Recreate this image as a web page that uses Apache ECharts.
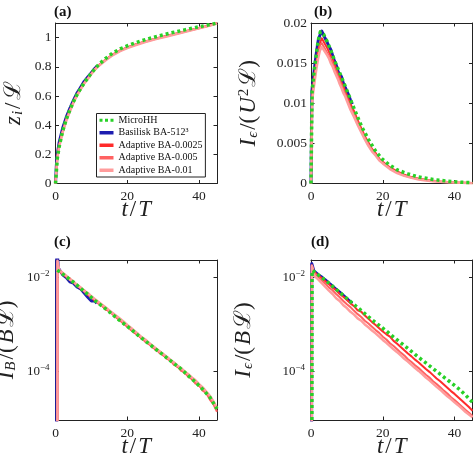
<!DOCTYPE html>
<html><head><meta charset="utf-8">
<script src="https://cdn.jsdelivr.net/npm/echarts@6/dist/echarts.min.js"></script>
<style>html,body{margin:0;padding:0;background:#fff}#c{width:475px;height:458px}</style>
</head><body><div id="c"></div><script>
// ---------- DATA ----------
const NAMES = ['MicroHH', 'Basilisk BA-512³', 'Adaptive BA-0.0025', 'Adaptive BA-0.005', 'Adaptive BA-0.01'];
const X_TICKS = [0, 20, 40];

// Panel (a): z_i / L
const tA = [0, 0.25, 0.5, 1, 1.5, 2, 3, 4, 5, 6, 7, 8, 9, 10, 11, 12, 14, 16, 18, 20, 22, 25, 28, 31, 34, 37, 40, 43, 45];
const zA_ba0025 = [0, 0.10, 0.18, 0.26, 0.31, 0.36, 0.44, 0.50, 0.56, 0.61, 0.65, 0.69, 0.72, 0.755, 0.785, 0.81, 0.85, 0.885, 0.912, 0.933, 0.951, 0.974, 0.994, 1.012, 1.03, 1.048, 1.066, 1.085, 1.098];
const zA_ba005  = [0, 0.095, 0.175, 0.255, 0.305, 0.355, 0.435, 0.497, 0.557, 0.607, 0.648, 0.688, 0.719, 0.753, 0.783, 0.808, 0.848, 0.883, 0.91, 0.931, 0.949, 0.972, 0.992, 1.01, 1.028, 1.046, 1.064, 1.083, 1.097];
const zA_ba01   = [0, 0.09, 0.17, 0.25, 0.30, 0.35, 0.43, 0.493, 0.553, 0.603, 0.645, 0.685, 0.716, 0.75, 0.78, 0.805, 0.845, 0.88, 0.907, 0.928, 0.946, 0.97, 0.99, 1.008, 1.026, 1.045, 1.063, 1.082, 1.096];
const tMicroA = [0, 0.5, 1, 2, 3, 4, 5, 6, 8, 10, 12, 14, 16, 18, 20, 22, 24, 26, 28, 30, 32, 34, 36, 38, 40, 42, 44, 45];
const zMicroA = [0, 0.17, 0.25, 0.36, 0.44, 0.505, 0.56, 0.61, 0.69, 0.757, 0.815, 0.858, 0.895, 0.922, 0.944, 0.962, 0.978, 0.993, 1.006, 1.019, 1.031, 1.042, 1.053, 1.064, 1.074, 1.084, 1.094, 1.1];
const tBlueA = [0, 0.25, 0.5, 1, 1.5, 2, 3, 4, 5, 6, 7, 8, 9, 10, 11, 11.6];
const zBlueA = [0, 0.13, 0.2, 0.28, 0.33, 0.38, 0.455, 0.515, 0.57, 0.62, 0.66, 0.70, 0.73, 0.76, 0.79, 0.805];

// Panel (b): I_eps / (U^2 L)
const tB = [0, 0.2, 0.3, 0.5, 0.8, 1, 1.5, 2, 2.5, 3, 3.5, 4, 4.5, 5, 5.5, 6, 6.5, 7, 7.5, 8, 8.5, 9, 9.5, 10, 11, 12, 13, 14, 15, 16, 17, 18, 19, 20, 22, 24, 26, 28, 30, 32, 34, 36, 38, 40, 42, 45];
const iB_ba0025 = [0, 0, 0.0106, 0.0119, 0.0128, 0.0136, 0.0151, 0.0166, 0.0175, 0.0181, 0.0177, 0.0176, 0.0169, 0.0167, 0.0159, 0.0156, 0.0149, 0.0144, 0.0137, 0.0134, 0.0126, 0.0122, 0.0115, 0.0110, 0.0099, 0.0090, 0.0079, 0.0069, 0.0059, 0.0051, 0.0043, 0.0038, 0.0031, 0.0027, 0.0020, 0.0015, 0.0011, 0.0008, 0.0006, 0.00046, 0.00035, 0.00026, 0.0002, 0.00014, 0.0001, 0.00006];
const iB_ba005  = [0, 0, 0.0102, 0.0114, 0.0125, 0.0131, 0.0147, 0.0160, 0.0172, 0.0175, 0.0171, 0.0172, 0.0163, 0.0161, 0.0155, 0.0150, 0.0144, 0.0140, 0.0133, 0.0128, 0.0123, 0.0117, 0.0112, 0.0106, 0.0095, 0.0086, 0.0076, 0.0066, 0.0057, 0.0049, 0.0042, 0.0036, 0.0030, 0.0026, 0.0019, 0.0014, 0.0010, 0.00075, 0.00055, 0.00042, 0.00032, 0.00024, 0.00018, 0.00013, 0.00009, 0.00005];
const iB_ba01   = [0, 0, 0.0098, 0.0110, 0.0120, 0.0127, 0.0143, 0.0156, 0.0166, 0.0170, 0.0167, 0.0165, 0.0160, 0.0156, 0.0150, 0.0146, 0.0140, 0.0135, 0.0130, 0.0124, 0.0119, 0.0113, 0.0109, 0.0103, 0.0092, 0.0083, 0.0073, 0.0064, 0.0055, 0.0047, 0.0040, 0.0035, 0.0029, 0.0025, 0.0018, 0.0013, 0.00095, 0.0007, 0.0005, 0.00038, 0.00029, 0.00022, 0.00016, 0.00012, 0.00008, 0.00004];
const tMicroB = [0, 0.3, 1, 2, 2.6, 3.5, 4.5, 5.5, 6.5, 7.7, 9, 10, 11.4, 12.8, 14.2, 16, 17.9, 19.7, 21.6, 24, 27, 30, 34, 38, 42, 45];
const iMicroB = [0, 0.0115, 0.0145, 0.0178, 0.0189, 0.0186, 0.0177, 0.0166, 0.0154, 0.0141, 0.0127, 0.0116, 0.0100, 0.0085, 0.0070, 0.0055, 0.0041, 0.0031, 0.0024, 0.0017, 0.0012, 0.0008, 0.0005, 0.0003, 0.00015, 0.0001];
const tBlueB = [0, 0.2, 0.25, 0.5, 1, 1.5, 2, 2.5, 3, 3.3, 3.6, 4, 4.5, 5, 5.5, 6, 6.5, 7, 7.5, 8, 8.5, 9, 9.5, 10, 10.5, 11, 11.5];
const iBlueB = [0, 0, 0.0115, 0.0125, 0.0145, 0.0163, 0.0178, 0.0185, 0.0190, 0.0192, 0.0184, 0.0183, 0.0176, 0.0171, 0.0167, 0.0160, 0.0153, 0.0148, 0.0140, 0.0136, 0.0133, 0.0125, 0.0120, 0.0115, 0.0110, 0.0104, 0.0099];

// Panel (c): I_B/(B L), values given as log10 exponents
const tC = [0.5, 0.55, 1, 2, 3, 4, 5, 6, 7, 8, 9, 10, 11, 12, 13, 14, 15, 16, 17, 18, 19, 20, 21, 22, 23, 24, 25, 26, 27, 28, 29, 30, 31, 32, 33, 34, 35, 36, 37, 38, 39, 40, 41, 42, 43, 44, 45];
const eC_ba0025 = [-9, -1.66, -1.85, -1.91, -1.99, -2.02, -2.11, -2.15, -2.24, -2.27, -2.37, -2.41, -2.50, -2.54, -2.60, -2.68, -2.71, -2.79, -2.84, -2.92, -2.97, -3.05, -3.09, -3.18, -3.22, -3.30, -3.34, -3.42, -3.46, -3.55, -3.58, -3.66, -3.70, -3.78, -3.82, -3.91, -3.94, -4.04, -4.07, -4.17, -4.21, -4.31, -4.36, -4.47, -4.53, -4.68, -4.80];
const eC_ba005  = [-9, -1.70, -1.86, -1.93, -1.97, -2.05, -2.09, -2.18, -2.22, -2.30, -2.35, -2.43, -2.47, -2.56, -2.59, -2.66, -2.73, -2.77, -2.86, -2.90, -2.99, -3.03, -3.12, -3.16, -3.24, -3.28, -3.37, -3.40, -3.49, -3.52, -3.61, -3.64, -3.73, -3.76, -3.86, -3.89, -3.99, -4.02, -4.12, -4.15, -4.26, -4.29, -4.41, -4.46, -4.60, -4.70, -4.86];
const eC_ba01   = [-9, -1.64, -1.83, -1.90, -1.96, -2.04, -2.08, -2.16, -2.21, -2.28, -2.33, -2.40, -2.46, -2.52, -2.58, -2.64, -2.70, -2.76, -2.82, -2.88, -2.94, -3.01, -3.07, -3.14, -3.20, -3.27, -3.32, -3.39, -3.45, -3.51, -3.57, -3.63, -3.69, -3.75, -3.81, -3.88, -3.93, -4.00, -4.06, -4.13, -4.19, -4.27, -4.34, -4.43, -4.52, -4.64, -4.78];
const tMicroC = [0.5, 1, 3, 5, 7, 9, 11, 13, 15, 17, 19, 21, 23, 25, 27, 29, 31, 33, 35, 37, 39, 41, 43, 45];
const eMicroC = [-1.84, -1.86, -1.98, -2.10, -2.23, -2.36, -2.49, -2.61, -2.73, -2.86, -2.98, -3.10, -3.23, -3.35, -3.47, -3.59, -3.71, -3.83, -3.95, -4.09, -4.23, -4.38, -4.55, -4.80];
const tBlueC = [0.3, 0.35, 0.8, 1, 2, 3, 4, 5, 6, 7, 8, 9, 10, 11, 11.5];
const eBlueC = [-9, -1.3, -1.80, -1.84, -1.94, -2.00, -2.09, -2.12, -2.20, -2.24, -2.33, -2.42, -2.50, -2.50, -2.55];

// Panel (d): I_eps/(B L), log10 exponents
const tD = [0.2, 0.25, 0.8, 1, 2, 3, 4, 5, 6, 7, 8, 9, 10, 11, 12, 13, 14, 15, 16, 17, 18, 19, 20, 21, 22, 23, 24, 25, 26, 27, 28, 29, 30, 31, 32, 33, 34, 35, 36, 37, 38, 39, 40, 41, 42, 43, 44, 45];
const eD_ba0025 = [-9, -1.74, -1.87, -1.90, -1.96, -2.01, -2.08, -2.14, -2.21, -2.27, -2.35, -2.41, -2.48, -2.55, -2.61, -2.70, -2.73, -2.81, -2.88, -2.95, -3.01, -3.08, -3.15, -3.21, -3.26, -3.35, -3.41, -3.48, -3.55, -3.62, -3.68, -3.75, -3.81, -3.88, -3.95, -4.01, -4.08, -4.15, -4.21, -4.28, -4.35, -4.42, -4.48, -4.55, -4.62, -4.69, -4.76, -4.84];
const eD_ba005  = [-9, -1.76, -1.89, -1.93, -1.99, -2.06, -2.13, -2.21, -2.27, -2.35, -2.42, -2.50, -2.57, -2.63, -2.71, -2.78, -2.84, -2.92, -2.98, -3.05, -3.12, -3.18, -3.26, -3.32, -3.40, -3.46, -3.53, -3.60, -3.66, -3.74, -3.80, -3.87, -3.93, -4.00, -4.07, -4.13, -4.21, -4.27, -4.34, -4.41, -4.47, -4.55, -4.61, -4.68, -4.75, -4.82, -4.88, -4.95];
const eD_ba01   = [-9, -1.75, -1.92, -1.97, -2.04, -2.12, -2.20, -2.28, -2.35, -2.44, -2.50, -2.59, -2.65, -2.73, -2.79, -2.87, -2.92, -3.00, -3.06, -3.13, -3.19, -3.26, -3.33, -3.39, -3.46, -3.53, -3.59, -3.66, -3.73, -3.79, -3.86, -3.93, -3.99, -4.06, -4.13, -4.19, -4.26, -4.33, -4.39, -4.46, -4.53, -4.59, -4.66, -4.72, -4.79, -4.86, -4.92, -4.98];
const tMicroD = [0.2, 0.3, 1, 3, 5, 7, 9, 11, 13, 15, 17, 19, 21, 23, 25, 27, 29, 31, 33, 35, 37, 39, 41, 43, 45];
const eMicroD = [-9, -1.85, -1.88, -2.00, -2.12, -2.25, -2.38, -2.51, -2.64, -2.77, -2.90, -3.02, -3.14, -3.27, -3.39, -3.51, -3.64, -3.76, -3.88, -4.00, -4.12, -4.24, -4.36, -4.50, -4.66];
const tBlueD = [0.15, 0.2, 0.8, 1, 2, 3, 4, 5, 6, 7, 8, 9, 10, 11, 11.5];
const eBlueD = [-9, -1.70, -1.86, -1.88, -1.94, -1.99, -2.05, -2.12, -2.18, -2.25, -2.31, -2.38, -2.45, -2.52, -2.55];

// ---------- BUILD ----------
const FF = "'Liberation Serif','DejaVu Serif',serif";
const INK = '#222';
const COLORS = {micro: '#27d127', blue: '#1d1db0', r1: '#ff2b2b', r2: '#ff6262', r3: '#ff9c9c'};
const pairs = (t, v) => t.map((x, i) => [x, v[i]]);
const logPairs = (t, e) => t.map((x, i) => [x, Math.pow(10, e[i])]);

const GRIDS = [
  {left: 55.5, top: 23, width: 161.5, height: 160.5},
  {left: 311, top: 23, width: 161.5, height: 160.5},
  {left: 55.5, top: 260, width: 161.5, height: 160},
  {left: 311, top: 260, width: 161.5, height: 160}
];

const NF = 23, SF = 15;
const nameRich = {
  i: {fontFamily: FF, fontStyle: 'italic', fontSize: NF, color: INK, padding: [0, 1, 0, 1]},
  r: {fontFamily: FF, fontSize: NF, color: INK, padding: [0, 1, 0, 1]},
  sub: {fontFamily: FF, fontStyle: 'italic', fontSize: SF, color: INK, verticalAlign: 'bottom', padding: [9, 1, 0, 0]},
  sup: {fontFamily: FF, fontSize: SF, color: INK, verticalAlign: 'top', padding: [0, 1, 9, 0]}
};

const tickStyle = {show: true, inside: true, length: 3.5, lineStyle: {color: INK, width: 1}};
const lineStyleAx = {show: true, onZero: false, lineStyle: {color: INK, width: 1}};

const xAxes = [], yAxes = [];
const Y_CFG = [
  {type: 'value', min: 0, max: 1.1, interval: 0.2, name: '{i|z}{sub|i}{r|/}{r|ℒ}', gap: 30},
  {type: 'value', min: 0, max: 0.02, interval: 0.005, name: '{i|I}{sub|ϵ}{r|/(}{i|U}{sup|2}{r|ℒ)}', gap: 50},
  {type: 'log', min: 9.2e-6, max: 0.02366, name: '{i|I}{sub|B}{r|/(}{i|B}{r|ℒ)}', gap: 37},
  {type: 'log', min: 9.2e-6, max: 0.02366, name: '{i|I}{sub|ϵ}{r|/(}{i|B}{r|ℒ)}', gap: 55}
];
const logFmt = v => {
  const e = Math.log10(v), r = Math.round(e);
  if (Math.abs(e - r) > 0.02) return '';
  return '{b|10}{s|−' + Math.abs(r) + '}';
};

for (let g = 0; g < 4; g++) {
  for (const pos of ['bottom', 'top']) {
    const main = pos === 'bottom';
    xAxes.push({
      type: 'value', gridIndex: g, position: pos, min: 0, max: 45, interval: X_TICKS[1] - X_TICKS[0],
      axisLine: lineStyleAx, axisTick: tickStyle, splitLine: {show: false},
      axisLabel: {show: main, fontFamily: FF, fontSize: 13.5, color: INK, margin: 6, showMaxLabel: false,
        formatter: v => X_TICKS.includes(v) ? String(v) : ''},
      name: main ? '{i|t}{r|/}{i|T}' : '', nameLocation: 'middle', nameGap: 15, nameMoveOverlap: false,
      nameTextStyle: {rich: nameRich, verticalAlign: 'top'}
    });
  }
  const c = Y_CFG[g];
  for (const pos of ['left', 'right']) {
    const main = pos === 'left';
    const ax = {
      type: c.type, gridIndex: g, position: pos, min: c.min, max: c.max,
      axisLine: lineStyleAx, axisTick: tickStyle, splitLine: {show: false},
      axisLabel: {show: main, fontFamily: FF, fontSize: 13.5, color: INK, margin: 4,
        showMinLabel: c.type === 'value', showMaxLabel: g === 1},
      name: main ? c.name : '', nameLocation: 'middle', nameGap: c.gap, nameRotate: 90, nameMoveOverlap: false,
      nameTextStyle: {rich: nameRich}
    };
    if (c.type === 'value') ax.interval = c.interval;
    else {
      ax.logBase = 100;
      ax.axisLabel.formatter = logFmt;
      ax.axisLabel.margin = 6;
      ax.axisLabel.rich = {
        b: {fontFamily: FF, fontSize: 13, color: INK},
        s: {fontFamily: FF, fontSize: 9, color: INK, verticalAlign: 'top', padding: [0, 0, 7, 0]}
      };
    }
    yAxes.push(ax);
  }
}

const series = [];
function add(g, name, data, color, width, z, dashed) {
  series.push({
    type: 'line', name, xAxisIndex: 2 * g, yAxisIndex: 2 * g, data, symbol: 'none', z,
    clip: true, animation: false, color, itemStyle: {color},
    lineStyle: {color, width, type: dashed ? [3, 3] : 'solid', cap: 'butt', join: 'round'}
  });
}
function panel(g, blue, r1, r2, r3, micro) {
  add(g, NAMES[1], blue, COLORS.blue, 3, 2);
  add(g, NAMES[2], r1, COLORS.r1, 2, 3);
  add(g, NAMES[3], r2, COLORS.r2, 2, 4);
  add(g, NAMES[4], r3, COLORS.r3, 2.5, 5);
  add(g, NAMES[0], micro, COLORS.micro, 3.5, 6, true);
}
panel(0, pairs(tBlueA, zBlueA), pairs(tA, zA_ba0025), pairs(tA, zA_ba005), pairs(tA, zA_ba01), pairs(tMicroA, zMicroA));
panel(1, pairs(tBlueB, iBlueB), pairs(tB, iB_ba0025), pairs(tB, iB_ba005), pairs(tB, iB_ba01), pairs(tMicroB, iMicroB));
panel(2, logPairs(tBlueC, eBlueC), logPairs(tC, eC_ba0025), logPairs(tC, eC_ba005), logPairs(tC, eC_ba01), logPairs(tMicroC, eMicroC));
panel(3, logPairs(tBlueD, eBlueD), logPairs(tD, eD_ba0025), logPairs(tD, eD_ba005), logPairs(tD, eD_ba01), logPairs(tMicroD, eMicroD));

const DOTS = 'path://M0,0h3v3h-3zM5.5,0h3v3h-3zM11,0h3v3h-3z';
const titleStyle = {fontFamily: FF, fontWeight: 'bold', fontSize: 15, color: '#111'};
const option = {
  animation: false,
  backgroundColor: '#fff',
  title: [
    {text: '(a)', left: 54, top: 5, padding: 0, textStyle: titleStyle},
    {text: '(b)', left: 314, top: 5, padding: 0, textStyle: titleStyle},
    {text: '(c)', left: 54, top: 235, padding: 0, textStyle: titleStyle},
    {text: '(d)', left: 311, top: 235, padding: 0, textStyle: titleStyle}
  ],
  grid: GRIDS.map(g => Object.assign({containLabel: false, outerBoundsMode: 'none', show: false}, g)),
  xAxis: xAxes,
  yAxis: yAxes,
  legend: {
    data: [
      {name: NAMES[0], icon: DOTS},
      {name: NAMES[1], icon: 'rect'},
      {name: NAMES[2], icon: 'rect'},
      {name: NAMES[3], icon: 'rect'},
      {name: NAMES[4], icon: 'rect'}
    ],
    orient: 'vertical', left: 96.5, top: 113.5, itemWidth: 14, itemHeight: 3.5, itemGap: 1,
    padding: [1, 3, 1, 3], backgroundColor: '#fff', borderColor: INK, borderWidth: 1, borderRadius: 0,
    itemStyle: {borderWidth: 0}, lineStyle: {width: 0},
    textStyle: {fontFamily: FF, fontSize: 10, lineHeight: 11.5, color: '#111'}, selectedMode: false
  },
  series
};
const chart = echarts.init(document.getElementById('c'), null, {renderer: 'canvas'});
chart.setOption(option);
</script></body></html>
